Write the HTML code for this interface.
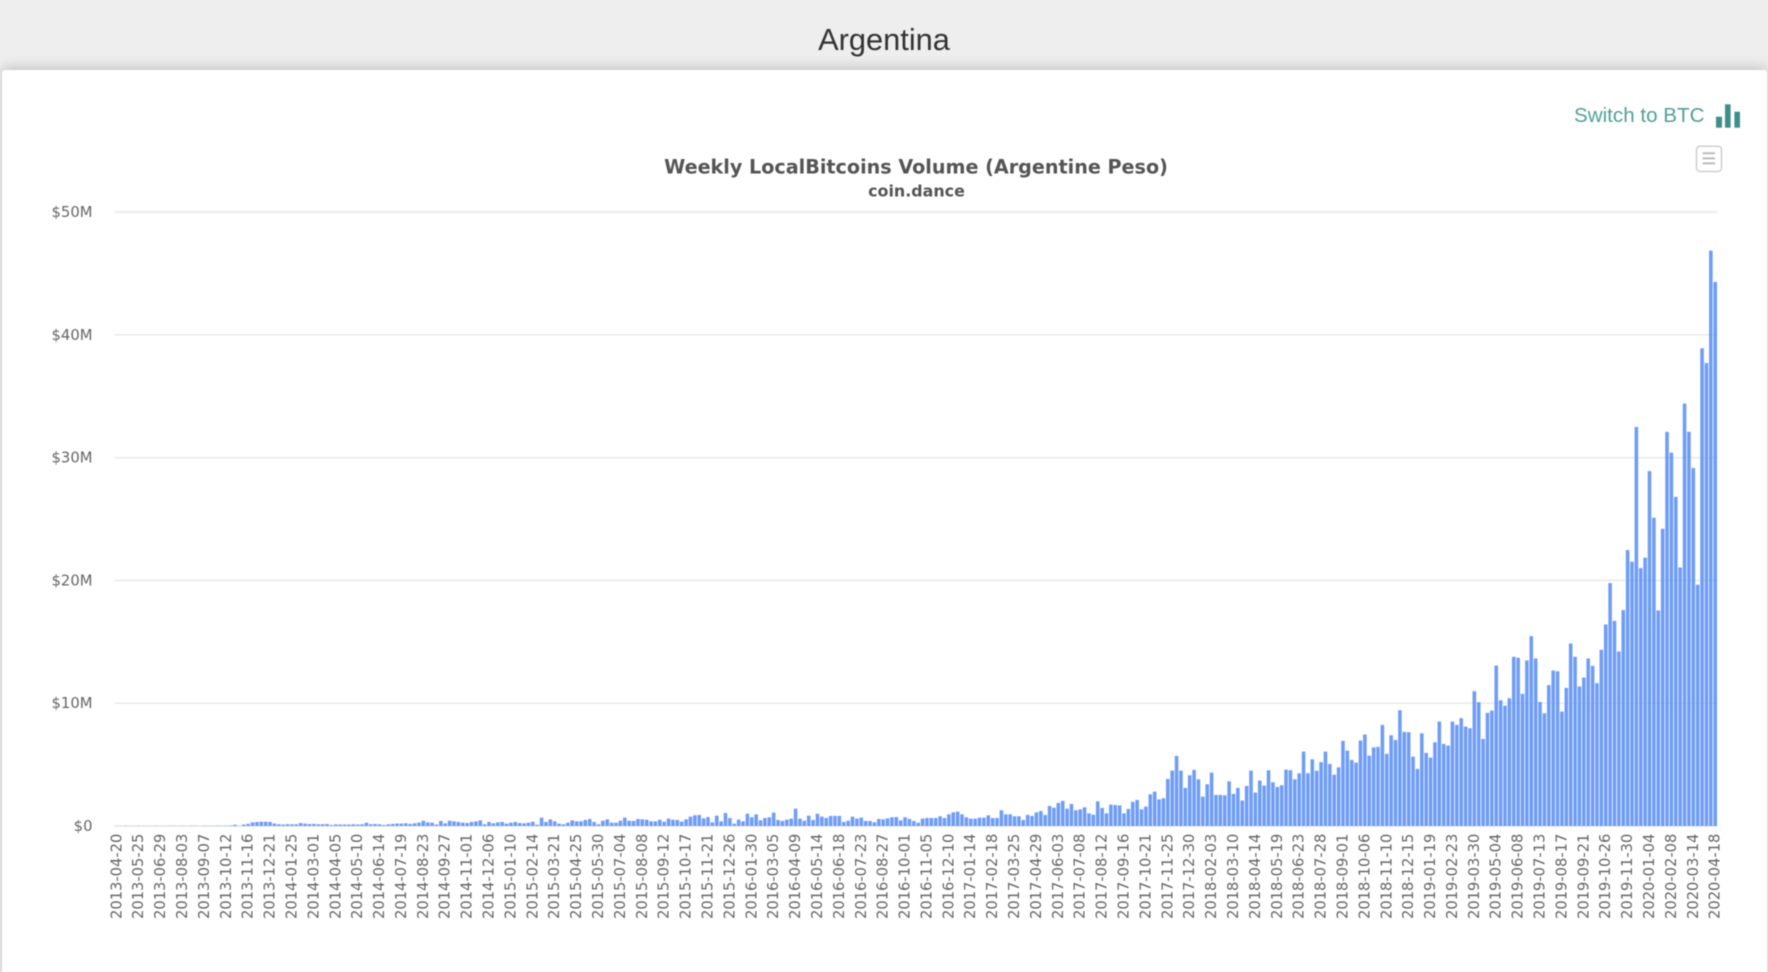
<!DOCTYPE html>
<html lang="en">
<head>
<meta charset="utf-8">
<title>Argentina - Weekly LocalBitcoins Volume</title>
<style>
  html, body { margin: 0; padding: 0; width: 1768px; height: 972px; overflow: hidden; background: #eeeeee; }
  #wrap { position: relative; width: 1768px; height: 972px; overflow: hidden; filter: blur(0.6px); font-family: "Liberation Sans", sans-serif; }
  #page-title { position: absolute; left: 0; width: 1768px; top: 20.5px; text-align: center; font-size: 30.8px; line-height: 38px; color: #333; }
  #card { position: absolute; left: 2px; top: 70px; width: 1765px; height: 920px; background: #fff; border-radius: 3px; box-shadow: 0 -2px 13px rgba(0,0,0,.2); }
  #chart { position: absolute; left: 0; top: 0; }
  #switch { position: absolute; left: 1574px; top: 103px; font-size: 20.6px; line-height: 26px; color: #52a096; white-space: nowrap; cursor: pointer; }
  .t { font-family: "DejaVu Sans", sans-serif; }
</style>
</head>
<body>
<div id="wrap">
  <div id="page-title">Argentina</div>
  <div id="card"></div>
  <svg id="chart" width="1768" height="972" viewBox="0 0 1768 972" xmlns="http://www.w3.org/2000/svg">
    <g id="grid"></g>
    <g id="bars"></g>
    <g id="y-labels"></g>
    <g id="x-labels"></g>
    <text class="t" x="916" y="173.5" text-anchor="middle" font-size="19.17" font-weight="700" fill="#555">Weekly LocalBitcoins Volume (Argentine Peso)</text>
    <text class="t" x="916.5" y="196.3" text-anchor="middle" font-size="15.9" font-weight="700" fill="#555">coin.dance</text>
    <g style="cursor:pointer">
      <rect x="1696.5" y="146.2" width="25" height="25.2" rx="3.5" fill="#fff" stroke="#ccc" stroke-width="1.4"/>
      <path d="M1702.6 153.3H1715M1702.6 158.4H1715M1702.6 163.4H1715" stroke="#bbb" stroke-width="2" fill="none"/>
    </g>
    <g fill="#3f8f88" style="cursor:pointer">
      <rect x="1716" y="116.7" width="6" height="11"/>
      <rect x="1725" y="104.3" width="5.6" height="23.4"/>
      <rect x="1734.4" y="111.7" width="5.6" height="16"/>
    </g>
  </svg>
  <div id="switch">Switch to BTC</div>
</div>
<script>
// Weekly volume in millions, one value per week from 2013-04-20 to 2020-04-18
const weeklyVolume = [
  0.01,0.01,0.02,0.01,0.01,0.02,0.01,0.01,0.01,0.02,0.01,0.01,0.02,0.02,0.01,0.02,0.01,0.02,0.02,0.01,0.03,0.02,0.02,0.03,0.02,0.03,0.04,
  0.1,0.02,0.12,0.17,0.3,0.33,0.35,0.35,0.33,0.2,0.14,0.12,0.15,0.14,0.14,0.24,0.19,0.16,0.17,0.14,0.15,0.16,0.08,0.13,
  0.12,0.12,0.12,0.14,0.12,0.14,0.27,0.15,0.16,0.14,0.08,0.14,0.17,0.2,0.2,0.22,0.17,0.22,0.28,0.43,0.3,0.27,0.12,0.41,0.22,0.43,0.38,0.33,0.27,0.24,
  0.33,0.38,0.46,0.14,0.33,0.22,0.3,0.33,0.2,0.27,0.33,0.24,0.22,0.27,0.35,0.1,0.68,0.33,0.54,0.38,0.19,0.14,0.27,0.46,0.38,0.38,0.49,0.57,0.33,0.14,
  0.43,0.54,0.27,0.27,0.43,0.68,0.43,0.41,0.57,0.54,0.51,0.38,0.38,0.51,0.35,0.6,0.51,0.49,
  0.35,0.54,0.76,0.87,0.9,0.62,0.73,0.3,0.84,0.38,1.06,0.65,0.19,0.52,0.38,1.0,0.71,0.95,0.46,0.65,0.71,1.09,0.49,0.41,0.52,0.6,1.41,0.6,0.43,0.84,
  0.49,1.0,0.76,0.65,0.82,0.82,0.82,0.33,0.43,0.76,0.6,0.68,0.41,0.41,0.3,0.57,0.54,0.62,0.71,0.73,0.46,0.71,0.57,0.41,0.27,0.6,0.65,0.65,0.65,0.79,
  0.65,0.95,1.11,1.17,0.95,0.71,0.6,0.6,0.68,0.68,0.87,0.65,0.65,1.28,0.95,0.95,0.79,0.79,0.49,
  0.9,0.82,1.11,1.22,0.9,1.63,1.49,1.88,2.04,1.41,1.79,1.28,1.36,1.52,1.03,0.92,2.01,1.47,1.03,1.74,1.71,1.68,1.03,1.39,1.96,2.12,1.36,1.58,2.58,2.8,
  2.17,2.26,3.83,4.51,5.71,4.51,3.1,4.13,4.57,3.8,2.39,3.4,4.35,2.53,2.53,2.5,3.64,2.61,3.1,2.07,3.26,4.51,2.72,3.7,3.29,4.54,3.56,3.18,3.32,4.59,
  4.54,3.8,4.29,6.06,4.3,5.43,4.5,5.2,6.06,5.05,4.18,4.78,6.93,6.14,5.38,5.16,6.96,7.45,
  5.73,6.4,6.44,8.23,5.87,7.39,7.0,9.43,7.66,7.64,5.65,4.65,7.55,5.95,5.57,6.82,8.5,6.68,6.55,8.5,
  8.23,8.78,8.1,7.96,10.98,10.08,7.09,9.21,9.4,13.07,10.24,9.8,10.4,13.78,13.7,10.76,13.48,15.46,13.64,10.1,
  9.18,11.47,12.66,12.6,9.32,11.25,14.86,13.78,11.36,12.09,13.64,13.04,11.63,14.35,16.41,19.78,16.71,14.21,17.58,22.47,
  21.52,32.5,21.0,21.85,28.9,25.1,17.55,24.2,32.1,30.4,26.8,21.05,34.4,32.1,29.15,19.65,38.9,37.7,46.85,44.3
];
// Y axis tick values (millions) and their printed labels
const yTickValues = [0, 10, 20, 30, 40, 50];
const yTickLabels = ["$0", "$10M", "$20M", "$30M", "$40M", "$50M"];
// One printed date for every fifth week
const labelEvery = 5;
const xTickLabels = [
  "2013-04-20","2013-05-25","2013-06-29","2013-08-03","2013-09-07","2013-10-12","2013-11-16","2013-12-21",
  "2014-01-25","2014-03-01","2014-04-05","2014-05-10","2014-06-14","2014-07-19","2014-08-23","2014-09-27","2014-11-01","2014-12-06",
  "2015-01-10","2015-02-14","2015-03-21","2015-04-25","2015-05-30","2015-07-04","2015-08-08","2015-09-12","2015-10-17","2015-11-21","2015-12-26",
  "2016-01-30","2016-03-05","2016-04-09","2016-05-14","2016-06-18","2016-07-23","2016-08-27","2016-10-01","2016-11-05","2016-12-10",
  "2017-01-14","2017-02-18","2017-03-25","2017-04-29","2017-06-03","2017-07-08","2017-08-12","2017-09-16","2017-10-21","2017-11-25","2017-12-30",
  "2018-02-03","2018-03-10","2018-04-14","2018-05-19","2018-06-23","2018-07-28","2018-09-01","2018-10-06","2018-11-10","2018-12-15",
  "2019-01-19","2019-02-23","2019-03-30","2019-05-04","2019-06-08","2019-07-13","2019-08-17","2019-09-21","2019-10-26","2019-11-30",
  "2020-01-04","2020-02-08","2020-03-14","2020-04-18"
];

const NS = "http://www.w3.org/2000/svg";
const plot = { left: 114.6, right: 1717.4, top: 212, bottom: 826 };
const yMax = 50;
function yScale(v) { return plot.bottom - (v / yMax) * (plot.bottom - plot.top); }
function bandWidth() { return (plot.right - plot.left) / weeklyVolume.length; }
function xCenter(i) { return plot.left + bandWidth() * (i + 0.5); }

const gridGroup = document.getElementById("grid");
const yLabelGroup = document.getElementById("y-labels");
yTickValues.forEach(function (v, i) {
  const line = document.createElementNS(NS, "line");
  line.setAttribute("x1", plot.left);
  line.setAttribute("x2", plot.right);
  line.setAttribute("y1", yScale(v));
  line.setAttribute("y2", yScale(v));
  line.setAttribute("stroke", "#e4e4e4");
  line.setAttribute("stroke-width", "1.2");
  
  
  gridGroup.appendChild(line);

  const label = document.createElementNS(NS, "text");
  label.setAttribute("class", "t");
  label.setAttribute("x", 92.5);
  label.setAttribute("y", yScale(v) + 5);
  label.setAttribute("text-anchor", "end");
  label.setAttribute("font-size", "14.8");
  label.setAttribute("fill", "#666");
  
  
  label.textContent = yTickLabels[i];
  yLabelGroup.appendChild(label);
});

const barGroup = document.getElementById("bars");
const barWidth = bandWidth() * 0.82;
weeklyVolume.forEach(function (v, i) {
  const bar = document.createElementNS(NS, "rect");
  bar.setAttribute("x", xCenter(i) - barWidth / 2);
  bar.setAttribute("y", yScale(v));
  bar.setAttribute("width", barWidth);
  bar.setAttribute("height", plot.bottom - yScale(v));
  bar.setAttribute("fill", "#5b8ff5");
  bar.setAttribute("fill-opacity", "0.88");
  
  
  barGroup.appendChild(bar);
});

const xLabelGroup = document.getElementById("x-labels");
xTickLabels.forEach(function (text, k) {
  const cx = xCenter(k * labelEvery);
  const label = document.createElementNS(NS, "text");
  label.setAttribute("class", "t");
  label.setAttribute("transform", "translate(" + (cx + 4.5) + ",919) rotate(-90)");
  label.setAttribute("font-size", "14.7");
  label.setAttribute("fill", "#666");
  
  
  label.textContent = text;
  xLabelGroup.appendChild(label);
});
</script>
</body>
</html>
